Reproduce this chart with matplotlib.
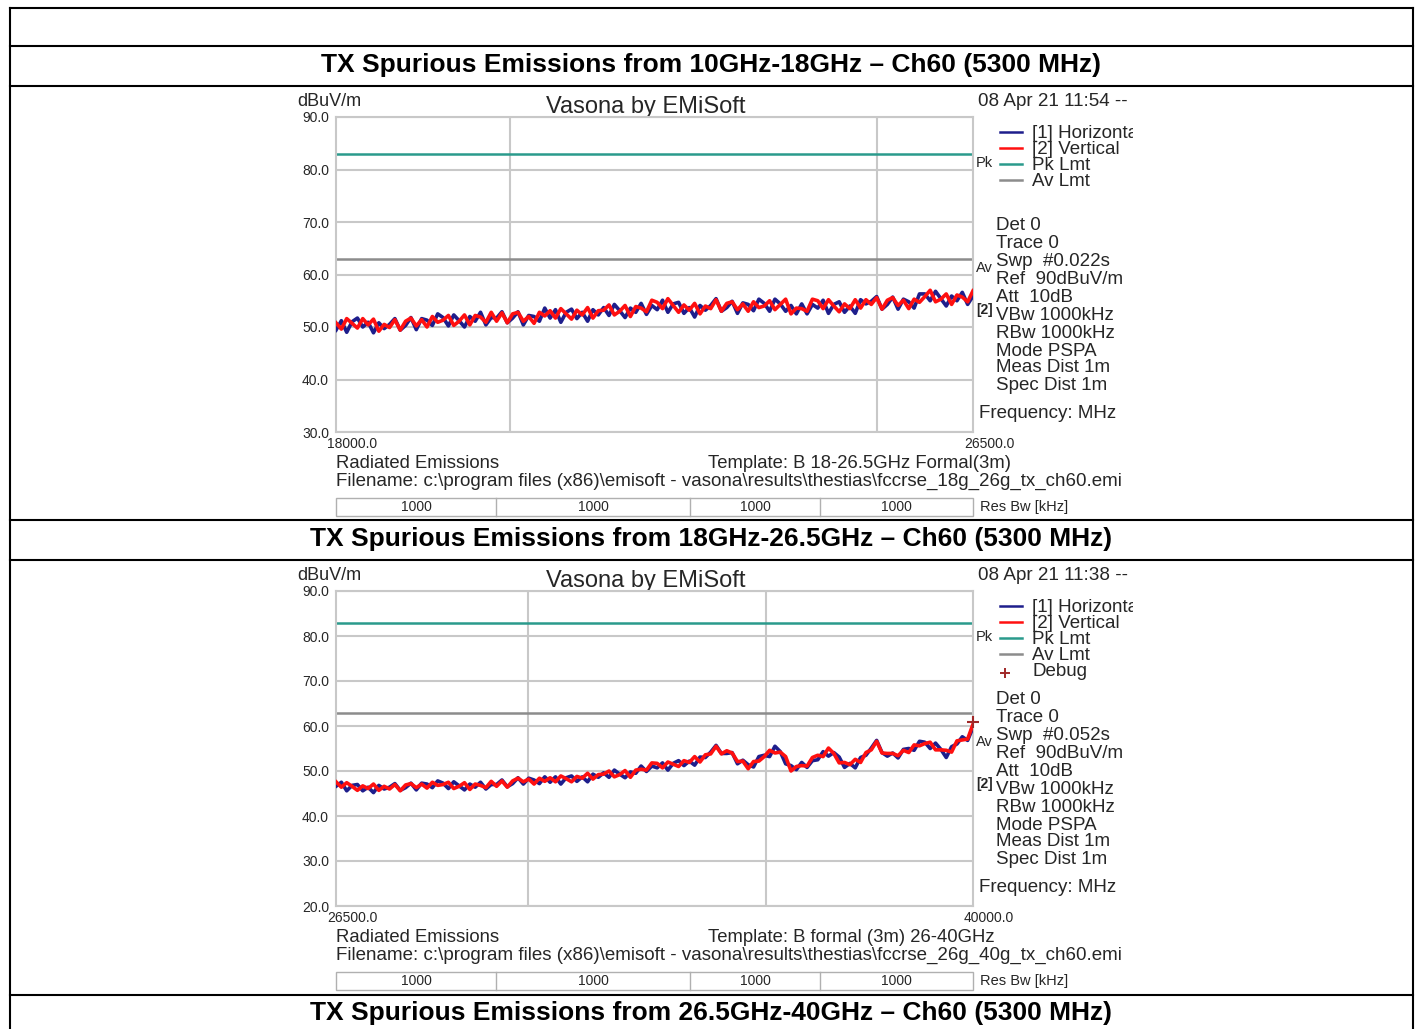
import numpy as np
import matplotlib.pyplot as plt
from matplotlib.patches import Rectangle
from matplotlib.ticker import NullLocator

plt.rcParams['font.family'] = ['Liberation Sans', 'DejaVu Sans']

W, H = 1415, 1029

captions = ["TX Spurious Emissions from 10GHz-18GHz \u2013 Ch60 (5300 MHz)",
            "TX Spurious Emissions from 18GHz-26.5GHz \u2013 Ch60 (5300 MHz)",
            "TX Spurious Emissions from 26.5GHz-40GHz \u2013 Ch60 (5300 MHz)"]

# ---- plot 1: 18 - 26.5 GHz ----
f1_start, f1_stop = 18000.0, 26500.0
y1_lim = (30.0, 90.0)
grid1_f = [20000, 25000]
pk1, av1 = 83.0, 63.0
vert1 = [50.8, 49.6, 51.6, 50.7, 49.8, 51.6, 50.4, 51.5, 49.2, 50.5,
         49.9, 51.4, 49.4, 51.1, 51.7, 50.2, 51.4, 50.0, 52.0, 50.9,
         51.3, 52.2, 50.3, 51.1, 52.3, 50.4, 52.2, 51.9, 50.9, 52.8,
         51.1, 52.7, 50.8, 52.5, 52.8, 51.1, 52.0, 50.7, 52.8, 52.1,
         53.1, 51.7, 53.5, 52.5, 51.5, 53.2, 52.3, 53.7, 51.7, 53.1,
         53.2, 54.2, 52.3, 53.0, 54.1, 52.0, 53.9, 53.6, 52.9, 55.1,
         54.7, 53.5, 55.4, 54.1, 52.8, 54.2, 53.2, 54.5, 52.5, 54.0,
         53.5, 55.2, 53.0, 54.5, 54.8, 53.3, 54.4, 53.0, 54.8, 53.7,
         54.0, 55.0, 53.3, 54.3, 55.3, 52.5, 53.6, 53.5, 53.0, 55.3,
         55.0, 53.5, 55.2, 54.0, 52.9, 54.4, 53.5, 55.2, 53.6, 55.2,
         54.3, 55.6, 53.4, 55.1, 55.6, 54.1, 55.1, 53.5, 55.3, 54.7,
         55.8, 57.0, 54.8, 55.3, 56.3, 54.3, 56.1, 55.7, 54.8, 56.9]
horiz1 = [49.4, 51.2, 49.0, 51.0, 51.7, 50.0, 50.9, 48.9, 50.8, 49.7,
          50.5, 51.6, 49.4, 50.3, 51.8, 49.5, 51.6, 51.3, 50.3, 52.5,
          51.8, 50.2, 52.3, 51.2, 50.0, 52.0, 51.1, 52.8, 50.4, 51.8,
          51.7, 52.9, 50.8, 51.7, 52.9, 50.4, 52.2, 52.0, 51.1, 53.6,
          51.7, 53.3, 50.9, 52.8, 53.4, 51.6, 52.8, 51.1, 53.3, 52.3,
          53.7, 52.2, 54.3, 53.1, 51.8, 53.6, 52.8, 54.5, 52.4, 54.1,
          53.3, 55.1, 52.8, 54.4, 54.7, 52.6, 53.7, 51.9, 54.1, 53.2,
          54.1, 55.4, 53.0, 53.7, 54.9, 52.6, 54.6, 54.3, 53.1, 55.3,
          54.5, 53.0, 55.3, 54.4, 53.0, 54.1, 52.5, 54.4, 52.5, 54.3,
          53.6, 55.1, 52.6, 54.3, 54.8, 52.8, 54.0, 52.6, 55.2, 54.4,
          54.9, 55.8, 53.4, 54.3, 55.7, 53.4, 55.3, 54.8, 53.6, 56.3,
          56.3, 55.0, 56.8, 55.4, 54.0, 55.9, 55.0, 56.6, 54.3, 55.9]
info1 = ["Det 0", "Trace 0", "Swp  #0.022s", "Ref  90dBuV/m", "Att  10dB",
         "VBw 1000kHz", "RBw 1000kHz", "Mode PSPA", "Meas Dist 1m", "Spec Dist 1m"]
date1 = "08 Apr 21 11:54 --"
template1 = "Template: B 18-26.5GHz Formal(3m)"
file1 = "Filename: c:\\program files (x86)\\emisoft - vasona\\results\\thestias\\fccrse_18g_26g_tx_ch60.emi"

# ---- plot 2: 26.5 - 40 GHz ----
f2_start, f2_stop = 26500.0, 40000.0
y2_lim = (20.0, 90.0)
grid2_f = [30000, 35000]
pk2, av2 = 83.0, 63.0
debug2 = 60.8
vert2 = [47.6, 46.4, 47.4, 46.6, 45.7, 46.7, 46.1, 47.1, 45.7, 46.6,
         46.0, 47.0, 45.6, 46.9, 47.2, 46.3, 47.1, 46.2, 47.5, 46.8,
         47.0, 47.5, 46.1, 46.6, 47.4, 45.9, 47.1, 46.8, 46.3, 47.7,
         46.6, 47.8, 46.4, 47.8, 48.4, 47.6, 48.2, 47.1, 48.4, 47.7,
         48.5, 47.6, 48.9, 48.3, 47.6, 48.8, 48.4, 49.5, 48.2, 49.2,
         49.3, 50.0, 48.7, 49.2, 50.1, 48.6, 50.2, 50.4, 50.2, 51.8,
         51.7, 50.7, 52.0, 51.5, 51.0, 52.3, 51.9, 53.2, 52.0, 53.6,
         53.8, 55.5, 53.8, 54.5, 54.0, 52.1, 52.2, 50.5, 52.1, 52.2,
         53.2, 54.6, 54.0, 54.2, 53.2, 50.0, 51.0, 51.2, 51.1, 53.0,
         53.5, 53.2, 55.1, 53.9, 51.8, 51.9, 51.4, 52.6, 51.9, 54.1,
         54.7, 56.6, 54.0, 53.9, 53.9, 53.4, 54.6, 54.1, 55.8, 55.6,
         56.1, 56.4, 54.7, 54.7, 54.6, 54.2, 56.7, 56.9, 57.1, 60.4]
horiz2 = [46.6, 47.5, 45.6, 46.8, 47.0, 45.6, 46.4, 45.2, 46.8, 46.0,
          46.4, 47.2, 45.7, 46.3, 47.3, 45.8, 47.3, 47.1, 46.3, 47.8,
          47.3, 46.1, 47.6, 46.7, 45.8, 47.1, 46.4, 47.5, 46.0, 47.0,
          47.0, 48.0, 46.5, 47.2, 48.5, 47.1, 48.4, 48.0, 47.2, 48.7,
          47.5, 48.7, 47.1, 48.5, 48.9, 47.7, 48.7, 47.6, 49.3, 48.6,
          49.6, 48.6, 50.2, 49.3, 48.5, 49.8, 49.5, 51.1, 49.9, 51.1,
          50.7, 51.8, 50.2, 51.7, 52.3, 51.2, 52.2, 51.3, 53.1, 53.0,
          54.2, 55.7, 53.9, 53.9, 54.1, 51.6, 52.4, 51.4, 50.9, 53.2,
          53.5, 53.2, 55.5, 54.3, 51.6, 51.2, 50.3, 51.9, 50.8, 52.3,
          52.5, 54.3, 53.3, 54.1, 53.1, 50.8, 51.7, 50.7, 53.0, 53.5,
          55.1, 56.8, 54.1, 53.3, 54.0, 52.9, 54.8, 55.0, 54.6, 56.6,
          56.4, 55.0, 56.2, 54.8, 53.0, 55.4, 56.0, 57.6, 56.8, 59.7]
info2 = ["Det 0", "Trace 0", "Swp  #0.052s", "Ref  90dBuV/m", "Att  10dB",
         "VBw 1000kHz", "RBw 1000kHz", "Mode PSPA", "Meas Dist 1m", "Spec Dist 1m"]
date2 = "08 Apr 21 11:38 --"
template2 = "Template: B formal (3m) 26-40GHz"
file2 = "Filename: c:\\program files (x86)\\emisoft - vasona\\results\\thestias\\fccrse_26g_40g_tx_ch60.emi"

res_bw = ["1000", "1000", "1000", "1000"]
legend_names = ["[1] Horizontal", "[2] Vertical", "Pk Lmt", "Av Lmt"]

BLUE = '#1e1e8c'
RED = '#ff1010'
TEAL = '#2a9a8c'
AVG = '#8c8c8c'
GRID = '#c8c8c8'
TXT = '#262626'


def draw_panel(fig, page, dy, fstart, fstop, ylim, grid_f, horiz, vert, pk, av,
               info, date, template, fname, debug=None):
    top = 117 + dy
    ax = fig.add_axes([336 / W, 1 - (top + 315) / H, 637 / W, 315 / H])
    freq = np.geomspace(fstart, fstop, len(vert))
    ax.plot(freq, horiz, color=BLUE, lw=2.6, zorder=3)
    ax.plot(freq, vert, color=RED, lw=2.6, zorder=4)
    ax.axhline(pk, color=TEAL, lw=1.8, zorder=2)
    ax.axhline(av, color=AVG, lw=1.8, zorder=2)
    if debug is not None:
        ax.plot([fstop], [debug], marker='+', color='#a02828', ms=8, mew=1.5,
                clip_on=False, zorder=5)
    ax.set_xscale('log')
    ax.set_xlim(fstart, fstop)
    ax.set_ylim(*ylim)
    ax.set_xticks(grid_f)
    ax.set_xticklabels([])
    ax.xaxis.set_minor_locator(NullLocator())
    yt = np.arange(ylim[0], ylim[1] + 1, 10)
    ax.set_yticks(yt)
    ax.set_yticklabels([f"{v:.1f}" for v in yt], color=TXT)
    ax.tick_params(length=0, labelsize=10, pad=5)
    ax.grid(color=GRID, lw=1.5, zorder=0)
    for s in ax.spines.values():
        s.set_color(GRID)
        s.set_linewidth(1.5)
    # end frequency labels
    for f in (fstart, fstop):
        ax.annotate(f"{f:.1f}", xy=(f, 0), xycoords=('data', 'axes fraction'),
                    xytext=(-9, -12), textcoords='offset pixels', fontsize=10,
                    color=TXT, ha='left', va='center')

    def t(x, y, s, size=13, **kw):
        page.text(x, y + dy, s, fontsize=size, color=TXT, va='center', zorder=2, **kw)

    t(297, 101, "dBuV/m", 13)
    t(646, 107, "Vasona by EMiSoft", 17, ha='center')
    t(978, 101, date, 13.6)
    names = legend_names + (["Debug"] if debug is not None else [])
    colors = [BLUE, RED, TEAL, AVG]
    for i, name in enumerate(names):
        y = 132 + 16 * i
        if i < 4:
            page.plot([1000, 1022], [y + dy, y + dy], color=colors[i], lw=1.8, zorder=2)
        else:
            page.plot([1005], [y + dy + 3], marker='+', color='#a02828', ms=7, mew=1.4, zorder=2)
        t(1032, y + 1, name, 13.5)
    t(976, 163, "Pk", 10.5)
    t(976, 268, "Av", 10.5)
    t(976, 310, "[2]", 10, fontweight='bold')
    info_y = [226, 243, 262, 280, 297, 315, 333, 351, 368, 386]
    for y, s in zip(info_y, info):
        t(996, y, s, 13.5)
    t(979, 413, "Frequency: MHz", 13.5)
    t(336, 464, "Radiated Emissions", 13.3)
    t(708, 464, template, 13.3)
    t(336, 481, fname, 13.5)
    # Res Bw strip
    edges = [336, 496, 690, 820, 973]
    page.add_patch(Rectangle((336, 498 + dy), 637, 18, fill=False, ec='#b0b0b0', lw=1, zorder=2))
    for i, s in enumerate(res_bw):
        if i > 0:
            page.plot([edges[i], edges[i]], [498 + dy, 516 + dy], color='#b0b0b0', lw=1, zorder=2)
        t((edges[i] + edges[i + 1]) / 2, 507, s, 10, ha='center')
    t(980, 507, "Res Bw [kHz]", 10.5)
    return ax


fig = plt.figure(figsize=(W / 100, H / 100), dpi=100)
page = fig.add_axes([0, 0, 1, 1])
page.set_xlim(0, W)
page.set_ylim(H, 0)
page.axis('off')

draw_panel(fig, page, 0, f1_start, f1_stop, y1_lim, grid1_f, horiz1, vert1, pk1, av1,
           info1, date1, template1, file1)
draw_panel(fig, page, 474, f2_start, f2_stop, y2_lim, grid2_f, horiz2, vert2, pk2, av2,
           info2, date2, template2, file2, debug=debug2)

# hide text running past the pasted chart image
for y0, y1 in [(88, 518), (562, 993)]:
    page.add_patch(Rectangle((1133, y0), 1412 - 1133, y1 - y0, fc='white', ec='none', zorder=3))

# table rules
for y in [8, 46, 86, 520, 560, 995]:
    page.plot([10, 1413], [y, y], color='black', lw=1.5, zorder=4)
for x in [10, 1413]:
    page.plot([x, x], [8, H], color='black', lw=1.5, zorder=4)

for y, s in zip([65, 539, 1013], captions):
    page.text(711, y, s, fontsize=19, fontweight='bold', ha='center', va='center',
              color='black', zorder=5)

fig.savefig('out.png', dpi=100)
